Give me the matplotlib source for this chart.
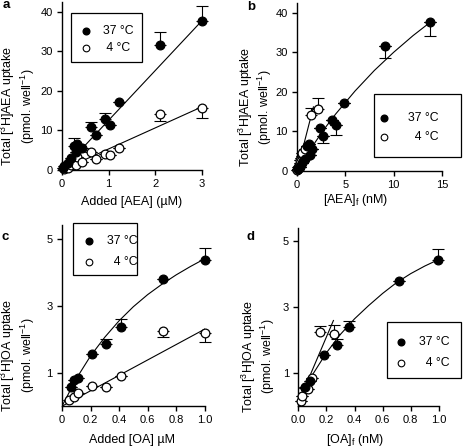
import matplotlib
matplotlib.use("Agg")
import matplotlib.pyplot as plt
from matplotlib.lines import Line2D
from matplotlib.patches import Rectangle

plt.rcParams['font.family'] = ['Liberation Sans', 'DejaVu Sans']
plt.rcParams['mathtext.fontset'] = 'custom'
plt.rcParams['mathtext.rm'] = 'Liberation Sans'
plt.rcParams['mathtext.it'] = 'Liberation Sans:italic'
plt.rcParams['font.size'] = 9

# ---- data ----
# a: total AEA uptake vs added AEA (uM)
a_x37 = [0.02, 0.05, 0.12, 0.2, 0.25, 0.3, 0.32, 0.42, 0.62, 0.72, 0.92, 1.02, 1.22, 2.1, 3.0]
a_y37 = [0.5, 1.0, 1.8, 3.0, 6.2, 4.5, 6.5, 5.5, 10.8, 8.8, 13.0, 11.5, 17.2, 31.6, 37.7]
a_e37 = [0, 0, 0, 0, 1.8, 0, 0, 0, 1.3, 0, 1.5, 0, 0, 3.4, 3.8]
a_x4 = [0.05, 0.12, 0.2, 0.3, 0.32, 0.42, 0.62, 0.72, 0.92, 1.02, 1.22, 2.1, 3.0]
a_y4 = [0.3, 0.6, 1.3, 1.2, 3.2, 2.0, 4.5, 2.8, 4.0, 3.7, 5.5, 14.2, 15.7]
a_e4 = [0, 0, 0, 0, 0, 0, 0, 0, 0, 0, 0, 1.7, 2.5]
a_fit37_x = [0, 3.0]
a_fit37_y = [0, 37.8]
a_fit4_x = [0, 3.0]
a_fit4_y = [0, 16.0]

# b: total AEA uptake vs free AEA (nM)
b_x37 = [0.1, 0.3, 0.5, 0.8, 1.0, 1.2, 1.35, 1.6, 2.4, 2.7, 3.6, 4.0, 4.9, 9.1, 13.8]
b_y37 = [0.5, 1.0, 2.0, 3.0, 6.3, 6.8, 4.0, 5.5, 10.8, 8.8, 13.0, 11.5, 17.2, 31.6, 37.7]
b_e37 = [0, 0, 0, 0, 0, 0, 0, 0, 0, 1.6, 0, 2.3, 0, 3.1, 3.7]
b_x4 = [0.03, 0.08, 0.15, 0.2, 0.3, 0.35, 0.4, 0.5, 0.6, 0.55, 0.85, 1.5, 2.2]
b_y4 = [0.2, 0.5, 1.0, 1.2, 2.0, 2.8, 3.2, 3.7, 4.0, 4.5, 5.5, 14.2, 15.7]
b_e4 = [0, 0, 0, 0, 0, 0, 0, 0, 0, 0, 0, 1.8, 2.8]
b_fit37_x = [0, 1, 2, 3, 4, 6, 8, 10, 12, 14]
b_fit37_y = [0, 4.0, 7.7, 11.2, 14.4, 20.2, 25.4, 30.0, 34.2, 38.0]
b_fit4_x = [0, 1.7]
b_fit4_y = [0, 16.2]

# c: total OA uptake vs added OA (uM)
c_x37 = [0.063, 0.084, 0.11, 0.21, 0.31, 0.41, 0.71, 1.0]
c_y37 = [0.56, 0.78, 0.84, 1.56, 1.87, 2.37, 3.8, 4.36]
c_e37 = [0, 0, 0, 0, 0.13, 0.23, 0, 0.35]
c_x4 = [0.051, 0.084, 0.11, 0.21, 0.31, 0.41, 0.71, 1.0]
c_y4 = [0.18, 0.26, 0.38, 0.6, 0.58, 0.9, 2.25, 2.2]
c_e4 = [0, 0, 0, 0, 0, 0, 0.18, 0.28]
c_fit37_x = [0, 0.1, 0.2, 0.3, 0.4, 0.5, 0.6, 0.7, 0.8, 0.9, 1.0]
c_fit37_y = [0, 0.82, 1.5, 2.06, 2.55, 2.97, 3.33, 3.64, 3.92, 4.17, 4.4]
c_fit4_x = [0, 1.0]
c_fit4_y = [0, 2.3]

# d: total OA uptake vs free OA (nM)
d_x37 = [0.05, 0.086, 0.186, 0.274, 0.364, 0.72, 0.995]
d_y37 = [0.6, 0.78, 1.54, 1.87, 2.39, 3.8, 4.43]
d_e37 = [0, 0, 0, 0.17, 0.21, 0, 0.34]
d_x4 = [0.019, 0.026, 0.045, 0.069, 0.098, 0.157, 0.257]
d_y4 = [0.17, 0.32, 0.55, 0.52, 0.86, 2.24, 2.19]
d_e4 = [0, 0, 0, 0, 0, 0.2, 0.28]
d_fit37_x = [0, 0.1, 0.2, 0.3, 0.4, 0.5, 0.6, 0.7, 0.8, 0.9, 1.0]
d_fit37_y = [0, 0.95, 1.62, 2.18, 2.65, 3.05, 3.42, 3.75, 4.02, 4.25, 4.45]
d_fit4_x = [0, 0.25]
d_fit4_y = [0.1, 2.6]

labels = ['37 °C', '4 °C']

W, H = 464, 447
fig = plt.figure(figsize=(W / 100, H / 100), dpi=100)


def add_ax(left, right, top, bottom):
    return fig.add_axes([left / W, 1 - bottom / H, (right - left) / W, (bottom - top) / H])


def draw_panel(ax, x37, y37, e37, x4, y4, e4, f37x, f37y, f4x, f4y, err4_up):
    ax.plot(f37x, f37y, color='black', lw=0.8, zorder=2)
    ax.plot(f4x, f4y, color='black', lw=0.8, zorder=2)
    z37 = [0] * len(e37)
    z4 = [0] * len(e4)
    ax.errorbar(x37, y37, yerr=[z37, e37], fmt='none', ecolor='black',
                elinewidth=0.8, capsize=4, capthick=0.8, zorder=3, clip_on=False)
    yerr4 = [z4, e4] if err4_up else [e4, z4]
    ax.errorbar(x4, y4, yerr=yerr4, fmt='none', ecolor='black',
                elinewidth=0.8, capsize=4, capthick=0.8, zorder=3, clip_on=False)
    ax.plot(x4, y4, 'o', ms=6.3, mfc='white', mec='black', mew=0.9,
            zorder=4, clip_on=False)
    ax.plot(x37, y37, 'o', ms=6.3, mfc='black', mec='black', mew=0.9,
            zorder=5, clip_on=False)
    for s in ['top', 'right']:
        ax.spines[s].set_visible(False)
    for s in ['left', 'bottom']:
        ax.spines[s].set_linewidth(1.0)
    ax.tick_params(direction='out', length=3.6, width=1.0, labelsize=8)
    ax.tick_params(axis='x', pad=2.8)
    ax.tick_params(axis='y', pad=3.0)


def draw_key(box, mark_x, text_x, rows, label4):
    x0, y0, x1, y1 = box
    fig.add_artist(Rectangle((x0 / W, 1 - y1 / H), (x1 - x0) / W, (y1 - y0) / H,
                             transform=fig.transFigure, fill=False,
                             edgecolor='black', lw=0.9))
    fig.add_artist(Line2D([mark_x / W], [1 - rows[0] / H], transform=fig.transFigure,
                          marker='o', ms=4.8, mfc='black', mec='black', ls='none'))
    fig.add_artist(Line2D([mark_x / W], [1 - rows[1] / H], transform=fig.transFigure,
                          marker='o', ms=4.8, mfc='white', mec='black', mew=0.8, ls='none'))
    fig.text(text_x / W, 1 - rows[0] / H, labels[0], va='center', ha='left', fontsize=8.8)
    fig.text(text_x / W, 1 - rows[1] / H, label4, va='center', ha='left', fontsize=8.8)


# panel a
ax = add_ax(62, 202, 1.7, 170)
draw_panel(ax, a_x37, a_y37, a_e37, a_x4, a_y4, a_e4,
           a_fit37_x, a_fit37_y, a_fit4_x, a_fit4_y, err4_up=False)
ax.set_xlim(0, 3)
ax.set_ylim(0, 42.6)
ax.set_xticks([0, 1, 2, 3])
ax.set_yticks([0, 10, 20, 30, 40])

# panel b
ax = add_ax(297, 442, 2.8, 171)
draw_panel(ax, b_x37, b_y37, [0] * len(b_e37), b_x4, b_y4, b_e4,
           b_fit37_x, b_fit37_y, b_fit4_x, b_fit4_y, err4_up=True)
# 37 C error bars point downward here
ax.errorbar(b_x37, b_y37, yerr=[b_e37, [0] * len(b_e37)], fmt='none', ecolor='black',
            elinewidth=0.8, capsize=4, capthick=0.8, zorder=3, clip_on=False)
ax.set_xlim(0, 15)
ax.set_ylim(0, 42.5)
ax.set_xticks([0, 5, 10, 15])
ax.set_yticks([0, 10, 20, 30, 40])

# panel c
ax = add_ax(62, 204.7, 225.3, 406.2)
draw_panel(ax, c_x37, c_y37, c_e37, c_x4, c_y4, c_e4,
           c_fit37_x, c_fit37_y, c_fit4_x, c_fit4_y, err4_up=False)
ax.set_xlim(0, 1.0)
ax.set_ylim(0, 5.4)
ax.set_xticks([0, 0.2, 0.4, 0.6, 0.8, 1.0])
ax.set_xticklabels(['0', '0.2', '0.4', '0.6', '0.8', '1.0'])
ax.set_yticks([1, 3, 5])

# panel d
ax = add_ax(298.3, 438.8, 228.1, 406.3)
draw_panel(ax, d_x37, d_y37, d_e37, d_x4, d_y4, d_e4,
           d_fit37_x, d_fit37_y, d_fit4_x, d_fit4_y, err4_up=True)
ax.set_xlim(0, 1.0)
ax.set_ylim(0, 5.4)
ax.set_xticks([0, 0.2, 0.4, 0.6, 0.8, 1.0])
ax.set_xticklabels(['0.0', '0.2', '0.4', '0.6', '0.8', '1.0'])
ax.set_yticks([1, 3, 5])

# legends
draw_key((71, 13.3, 141.7, 62.3), 85.7, 102.7, (30.7, 48.3), ' 4 °C')
draw_key((374.3, 94, 461.3, 156.7), 383.7, 408, (118.3, 137.3), '  4 °C')
draw_key((72.7, 223, 136.7, 275), 89.3, 107.3, (240.7, 261.7), '  4 °C')
draw_key((386.7, 322.3, 460.7, 377.7), 401, 419, (342.3, 362.7), '  4 °C')

# axis titles
aea_y = 'Total [$^{3}$H]AEA uptake\n(pmol. well$^{-1}$)'
oa_y = 'Total [$^{3}$H]OA uptake\n(pmol. well$^{-1}$)'
for px, py, txt in [(18, 106, aea_y), (255.5, 107, aea_y), (18, 355, oa_y), (258.5, 356, oa_y)]:
    fig.text(px / W, 1 - py / H, txt, rotation=90, ha='center', va='center',
             multialignment='center', fontsize=9, linespacing=1.1)
fig.text(131.7 / W, 1 - 201.7 / H, 'Added [AEA] (µM)', ha='center', va='center', fontsize=9)
fig.text(355.3 / W, 1 - 200 / H, '[AEA]$_\\mathrm{f}$ (nM)', ha='center', va='center', fontsize=9)
fig.text(131.7 / W, 1 - 440 / H, 'Added [OA] µM', ha='center', va='center', fontsize=9)
fig.text(355 / W, 1 - 440 / H, '[OA]$_\\mathrm{f}$ (nM)', ha='center', va='center', fontsize=9)

# panel letters
for letter, px, py in [('a', 6.5, 5), ('b', 251, 7), ('c', 5, 237), ('d', 251, 237)]:
    fig.text(px / W, 1 - py / H, letter, ha='center', va='center',
             fontsize=9.5, fontweight='bold')

fig.savefig('out.png', dpi=100)
